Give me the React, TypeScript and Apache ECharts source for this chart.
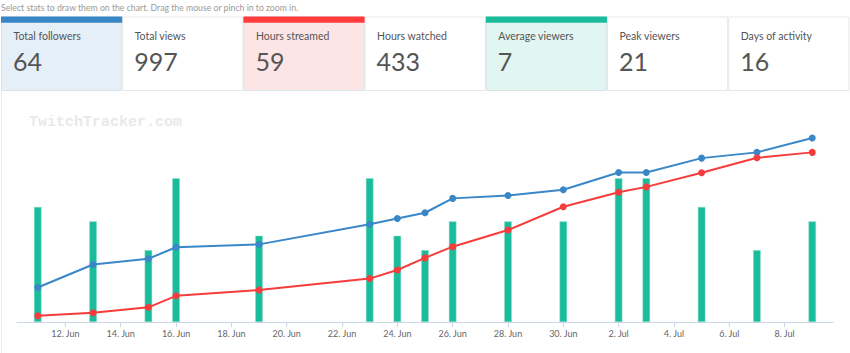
import React, { useEffect, useRef } from "react";
import * as echarts from "echarts";

// ---- data ----
const dates = [
  "2024-06-11", "2024-06-13", "2024-06-15", "2024-06-16", "2024-06-19", "2024-06-23",
  "2024-06-24", "2024-06-25", "2024-06-26", "2024-06-28", "2024-06-30", "2024-07-02",
  "2024-07-03", "2024-07-05", "2024-07-07", "2024-07-09",
];
const averageViewers = [8, 7, 5, 10, 6, 10, 6, 5, 7, 7, 7, 10, 10, 8, 5, 7];
const totalFollowers = [12, 20, 22, 26, 27, 34, 36, 38, 43, 44, 46, 52, 52, 57, 59, 64];
const hoursStreamed = [2.2, 3.2, 5.1, 9.1, 11.1, 15.1, 18.1, 22.3, 26.2, 32, 40.1, 45.1, 47, 51.9, 57.1, 59];
const tickDates = [
  "2024-06-12", "2024-06-14", "2024-06-16", "2024-06-18", "2024-06-20", "2024-06-22",
  "2024-06-24", "2024-06-26", "2024-06-28", "2024-06-30", "2024-07-02", "2024-07-04",
  "2024-07-06", "2024-07-08",
];
const cardTitles = ["Total followers", "Total views", "Hours streamed", "Hours watched", "Average viewers", "Peak viewers", "Days of activity"];
const cardValues = ["64", "997", "59", "433", "7", "21", "16"];
const cardAccent = ["#3a87c7", null, "#ff3b3b", null, "#1abc9c", null, null];
const cardFill = ["#e4eff8", "#ffffff", "#fde5e6", "#ffffff", "#e1f6f1", "#ffffff", "#ffffff"];
const hintText = "Select stats to draw them on the chart. Drag the mouse or pinch in to zoom in.";
const watermark = "TwitchTracker.com";

const BASE = Date.UTC(2024, 5, 1);
const dayNum = (s: string) => {
  const [y, m, d] = s.split("-").map(Number);
  return (Date.UTC(y, m - 1, d) - BASE) / 86400000 + 1;
};
const fmtDay = (v: number) => {
  const n = Math.round(v);
  return n <= 30 ? `${n}. Jun` : `${n - 30}. Jul`;
};

export default function App() {
  const ref = useRef<HTMLDivElement>(null);
  useEffect(() => {
    if (!ref.current) return;
    const chart = echarts.init(ref.current, null, { renderer: "svg" });
    const xs = dates.map(dayNum);
    const FONT = "Lato, 'Noto Sans', sans-serif";

    const cardW = 121.2;
    const cardX0 = 1;
    const cardTop = 16.5;
    const cardBottom = 90;
    const graphics: any[] = [];
    graphics.push({
      type: "text",
      left: 1,
      top: 3,
      style: { text: hintText, fill: "#9a9a9a", font: `8.7px ${FONT}` },
    });
    cardTitles.forEach((t, i) => {
      const x = cardX0 + i * cardW;
      graphics.push({
        type: "rect",
        shape: { x: x + 0.5, y: cardTop + 0.5, width: cardW - 1, height: cardBottom - cardTop },
        style: { fill: cardFill[i], stroke: cardAccent[i] ? "#d9e3e8" : "#e8e8e8", lineWidth: 1 },
        z: 1,
      });
      if (cardAccent[i]) {
        graphics.push({
          type: "rect",
          shape: { x: x, y: cardTop, width: cardW, height: 6.3 },
          style: { fill: cardAccent[i] },
          z: 2,
        });
      }
      graphics.push({
        type: "text",
        x: x + 12.5,
        y: 36,
        style: { text: t, fill: "#555555", font: `10.5px ${FONT}`, verticalAlign: "middle" },
        z: 3,
      });
      graphics.push({
        type: "text",
        x: x + 12,
        y: 61,
        style: { text: cardValues[i], fill: "#555555", font: `25px ${FONT}`, verticalAlign: "middle" },
        z: 3,
      });
    });
    // chart panel left border
    graphics.push({
      type: "line",
      shape: { x1: 1.5, y1: cardBottom, x2: 1.5, y2: 353 },
      style: { stroke: "#ececec", lineWidth: 1 },
    });
    graphics.push({
      type: "text",
      x: 29,
      y: 122,
      style: {
        text: watermark,
        fill: "#e9e9e9",
        font: `bold 15px 'Liberation Mono', 'DejaVu Sans Mono', monospace`,
        verticalAlign: "middle",
      },
      z: 0,
    });

    chart.setOption({
      animation: false,
      backgroundColor: "#ffffff",
      textStyle: { fontFamily: FONT },
      graphic: graphics,
      grid: { left: 17, right: 17, top: 92, bottom: 31 },
      xAxis: {
        type: "value",
        min: 10.25,
        max: 39.75,
        axisLine: { show: true, lineStyle: { color: "#ccd6eb", width: 1 } },
        axisTick: {
          show: true,
          length: 5,
          lineStyle: { color: "#ccd6eb" },
          customValues: tickDates.map(dayNum),
        },
        axisLabel: {
          color: "#666666",
          fontSize: 9,
          margin: 7,
          customValues: tickDates.map(dayNum),
          formatter: (v: number) => fmtDay(v),
        },
        splitLine: { show: false },
      },
      yAxis: [
        { type: "value", min: 0, max: 16, show: false, splitLine: { show: false } },
        { type: "value", min: 0, max: 80, show: false, splitLine: { show: false } },
      ],
      series: [
        {
          name: "Average viewers",
          type: "bar",
          yAxisIndex: 0,
          barWidth: 7.5,
          itemStyle: { color: "#1abc9c", borderColor: "#8fdcca", borderWidth: 0.5 },
          data: xs.map((x, i) => [x, averageViewers[i]]),
          z: 2,
        },
        {
          name: "Total followers",
          type: "line",
          yAxisIndex: 1,
          symbol: "circle",
          symbolSize: 7,
          lineStyle: { color: "#3a87c7", width: 2 },
          itemStyle: { color: "#3a87c7" },
          data: xs.map((x, i) => [x, totalFollowers[i]]),
          z: 4,
        },
        {
          name: "Hours streamed",
          type: "line",
          yAxisIndex: 1,
          symbol: "circle",
          symbolSize: 7,
          lineStyle: { color: "#f63c3c", width: 2 },
          itemStyle: { color: "#f63c3c" },
          data: xs.map((x, i) => [x, hoursStreamed[i]]),
          z: 4,
        },
      ],
    });
    return () => chart.dispose();
  }, []);
  return (
    <div
      ref={ref}
      style={{ position: "fixed", left: 0, top: 0, width: 850, height: 353 }}
    />
  );
}
